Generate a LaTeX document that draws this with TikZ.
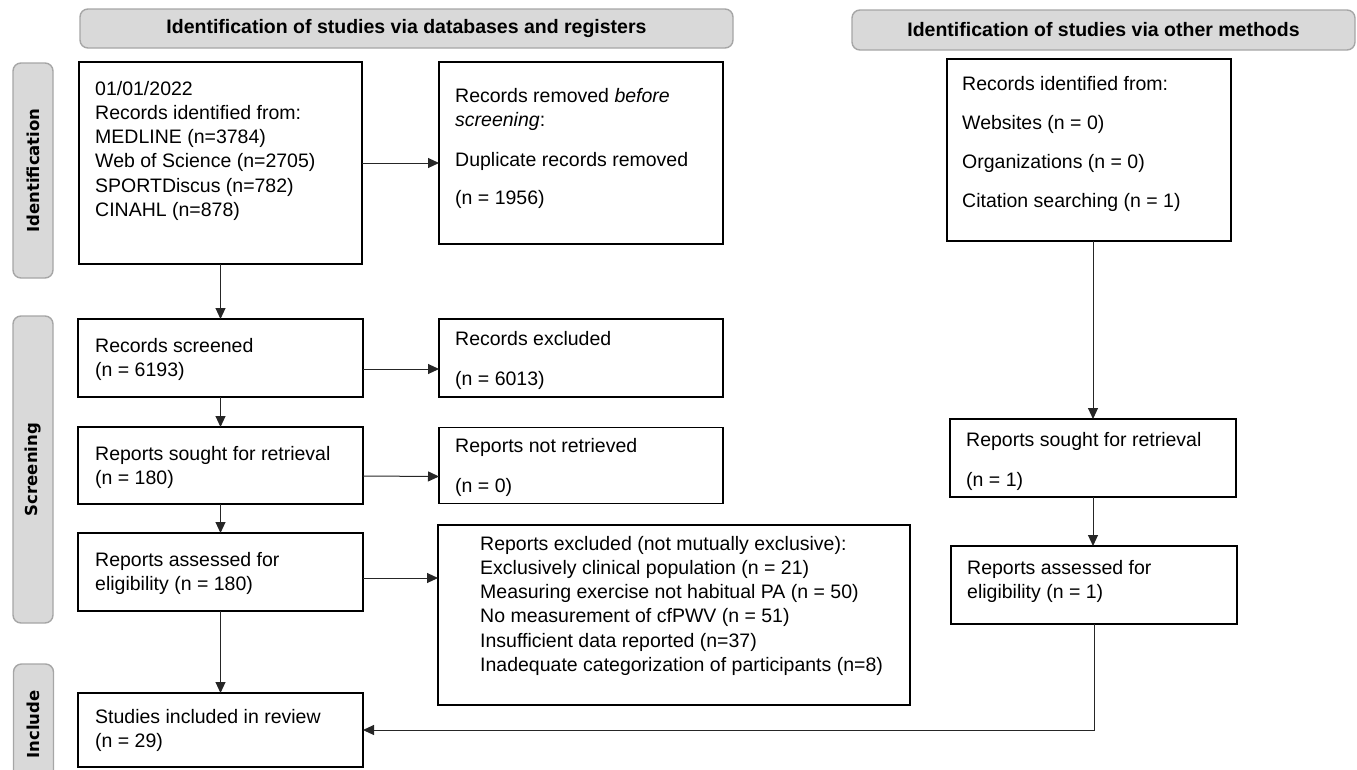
\documentclass[tikz,border=0pt]{standalone}
\usepackage{fontspec}
\setmainfont{Liberation Sans}
\newfontfamily\sidefont{DejaVu Sans}
\usetikzlibrary{positioning, arrows.meta}

\newcommand{\flowtext}[1]{\parbox[t]{470pt}{\raggedright #1}}

\begin{document}
\begin{tikzpicture}[x=1pt, y=-1pt, node distance=76pt,
    box/.style={draw, line width=1.6pt, shape=rectangle, anchor=north west, inner sep=0pt, outer sep=0pt},
    txt/.style={anchor=base west, inner sep=0pt, font=\fontsize{19.5pt}{24.3pt}\selectfont},
    head/.style={draw=gray!70, fill=gray!30, line width=1.4pt, rounded corners=8pt, font=\fontsize{19.5pt}{23pt}\selectfont\bfseries},
    side/.style={head, rotate=90, minimum height=40pt, font=\sidefont\fontsize{16.5pt}{20pt}\selectfont\bfseries},
    arr/.style={-{Triangle[length=11pt, width=10pt]}, line width=1pt, draw=black!85}]
        \useasboundingbox (0,0) rectangle (1357,769);

        % Headers and phase labels
        \node (dbhead) [head, minimum width=653pt, minimum height=39pt] at (406.5,28.5) {Identification of studies via databases and registers};
        \node (otherhead) [head, minimum width=503pt, minimum height=40pt] at (1103.5,30) {Identification of studies via other methods};

        \node (ident) [side, minimum width=215pt] at (33,170.5) {Identification};
        \node (screen) [side, minimum width=307pt] at (33,469.5) {Screening};
        \node (incl) [side, minimum width=121pt] at (33.5,724.5) {Include};

        % Node definitions
        \node (A) [box, minimum width=283pt, minimum height=202pt] at (79,62) {};
        \node (B) [box, minimum width=284pt, minimum height=182pt] at (439,62) {};
        \node (C) [box, minimum width=284pt, minimum height=182pt] at (947,59) {};
        \node (D) [box, minimum width=285pt, minimum height=78pt] at (78,319) {};
        \node (E) [box, minimum width=284pt, minimum height=78pt, right=of D] {};
        \node (F) [box, minimum width=285pt, minimum height=77pt] at (78,427) {};
        \node (G) [box, minimum width=284pt, minimum height=76pt, right=of F] {};
        \node (H) [box, minimum width=285pt, minimum height=78pt] at (78,533) {};
        \node (I) [box, minimum width=472pt, minimum height=180pt] at (438,525) {};
        \node (J) [box, minimum width=286pt, minimum height=78pt] at (950,419) {};
        \node (K) [box, minimum width=286pt, minimum height=78pt] at (951,546) {};
        \node (L) [box, minimum width=285pt, minimum height=74pt] at (78,693) {};

        % Box texts
        \node (A-text) [txt] at (95,95) {\flowtext{01/01/2022\\Records identified from:\\MEDLINE (n=3784)\\Web of Science (n=2705)\\SPORTDiscus (n=782)\\CINAHL (n=878)}};
        \node (B-text) [txt] at (455,102) {\flowtext{Records removed \textit{before}\\\textit{screening}:\\[16pt]Duplicate records removed\\[14pt](n = 1956)}};
        \node (C-text) [txt] at (962,90) {\flowtext{Records identified from:\\[15pt]Websites (n = 0)\\[15pt]Organizations (n = 0)\\[15pt]Citation searching (n = 1)}};
        \node (D-text) [txt] at (95,352) {\flowtext{Records screened\\(n = 6193)}};
        \node (E-text) [txt] at (455,345) {\flowtext{Records excluded\\[16pt](n = 6013)}};
        \node (F-text) [txt] at (95,460) {\flowtext{Reports sought for retrieval\\(n = 180)}};
        \node (G-text) [txt] at (455,452) {\flowtext{Reports not retrieved\\[15.7pt](n = 0)}};
        \node (H-text) [txt] at (95,566) {\flowtext{Reports assessed for\\eligibility (n = 180)}};
        \node (I-text) [txt] at (480,550) {\flowtext{Reports excluded (not mutually exclusive):\\Exclusively clinical population (n = 21)\\Measuring exercise not habitual PA (n = 50)\\No measurement of cfPWV (n = 51)\\Insufficient data reported (n=37)\\Inadequate categorization of participants (n=8)}};
        \node (J-text) [txt] at (966,446) {\flowtext{Reports sought for retrieval\\[16pt](n = 1)}};
        \node (K-text) [txt] at (967,574) {\flowtext{Reports assessed for\\eligibility (n = 1)}};
        \node (L-text) [txt] at (95,723) {\flowtext{Studies included in review\\(n = 29)}};

        % Connecting lines
        \draw[arr] (A.east) -- (A.east -| B.west);
        \draw[arr] (A) -- (D);
        \draw[arr] ([yshift=-11pt]D.east) -- ([yshift=-11pt]E.west);
        \draw[arr] (D) -- (F);
        \draw[arr] ([yshift=-10.5pt]F.east) -- ([yshift=-11pt]G.west);
        \draw[arr] (F) -- (H);
        \draw[arr] ([yshift=-6pt]H.east) -- ([yshift=37pt]I.west);
        \draw[arr] (H) -- (L);
        \draw[arr] (C.south -| J.north) -- (J.north);
        \draw[arr] (J.south) -- (J.south |- K.north);
        \draw[arr] (K.south) |- (L.east);
    \end{tikzpicture}
\end{document}
